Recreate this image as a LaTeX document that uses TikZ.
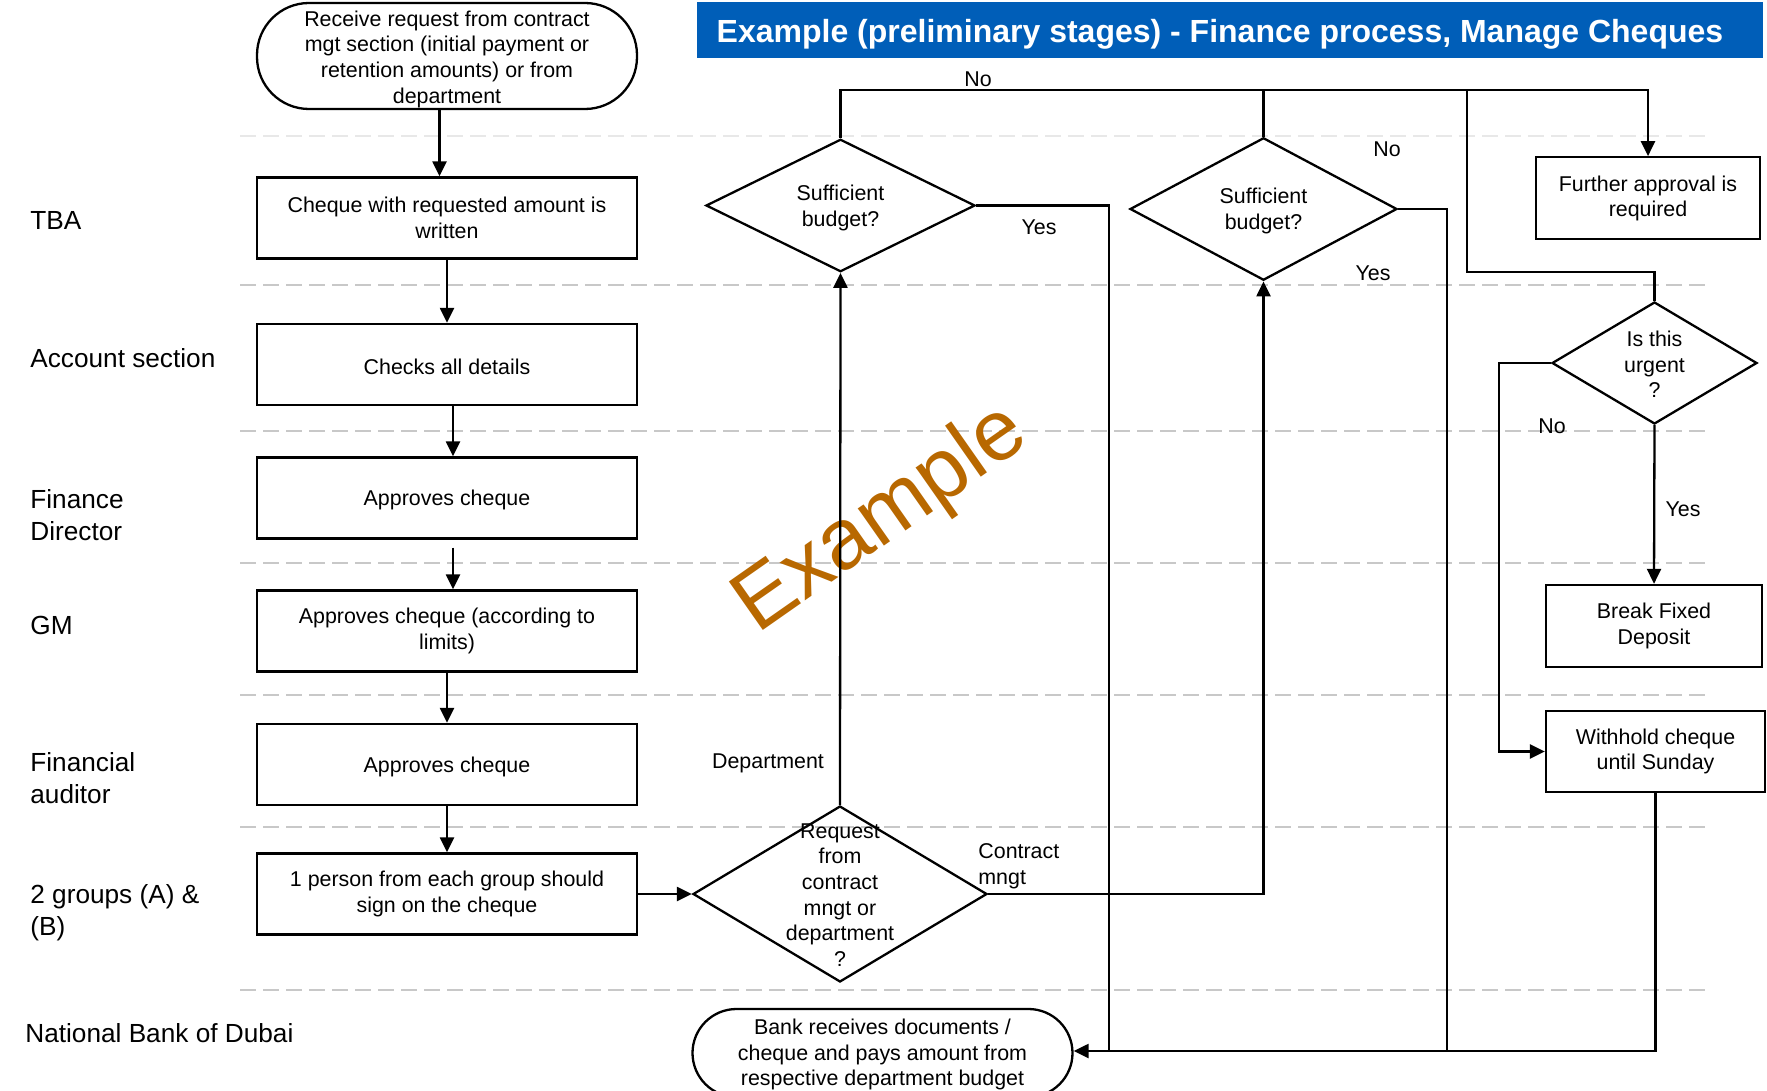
\documentclass[tikz,border=0pt]{standalone}
\usepackage{fontspec}
\setmainfont{Liberation Sans}
\usetikzlibrary{arrows.meta,shapes.geometric,calc}
\definecolor{titleblue}{RGB}{0,94,184}
\definecolor{wmark}{RGB}{184,104,0}
\definecolor{lanegray}{RGB}{200,200,200}
\definecolor{lanelight}{RGB}{232,232,232}
\begin{document}
\begin{tikzpicture}[x=0.5pt,y=-0.5pt,
  every node/.style={font=\fontsize{10.7}{12.8}\selectfont},
  box/.style={draw, line width=1.15pt, minimum width=190pt, minimum height=40.5pt, align=center, inner sep=2pt, execute at begin node={\rule{0pt}{10pt}}},
  term/.style={draw, line width=1.15pt, rounded corners=26pt, minimum width=190pt, align=center, inner sep=0pt},
  dia/.style={draw, line width=1.15pt, diamond, inner sep=0pt},
  txt/.style={align=center, inner sep=0pt},
  lane/.style={anchor=west, align=left, inner sep=0pt, font=\fontsize{13.1}{16}\selectfont},
  lbl/.style={inner sep=0pt},
  conn/.style={line width=1.15pt},
  arr/.style={line width=1.15pt, -{Triangle[length=7.5pt,width=7pt]}},
  laneline/.style={line width=1pt, dash pattern=on 8pt off 3.5pt}]
\useasboundingbox (0,0) rectangle (1767,1091);
\clip (0,0) rectangle (1767,1091);

% swimlane separators
\draw[laneline, lanelight] (240,136) -- (1707,136);
\foreach \yy in {285,431,562.5,695,826.5,990}
  \draw[laneline, lanegray] (240,\yy) -- (1707,\yy);

% watermark
\node[text=wmark, font=\fontsize{43}{50}\selectfont, rotate=35, inner sep=0pt] (wm) at (882,520) {Example};

% title
\node[fill=titleblue, minimum width=533pt, minimum height=28pt, inner sep=0pt] (titlebar) at (1230,30) {};
\node[text=white, font=\bfseries\fontsize{16}{19}\selectfont, inner sep=0pt] (title) at (1220,34) {Example (preliminary stages) - Finance process, Manage Cheques};

% lane labels
\node[lane] (lTBA) at (30,220) {TBA};
\node[lane] (lAcc) at (30,358) {Account section};
\node[lane] (lFD) at (30,515) {Finance\\Director};
\node[lane] (lGM) at (30,625) {GM};
\node[lane] (lFA) at (30,778.5) {Financial\\auditor};
\node[lane] (lGrp) at (30,913) {2 groups (A) \&\\(B)};
\node[lane] (lNBD) at (25,1033) {National Bank of Dubai};

% left column
\node[term, minimum height=53pt] (start) at (447,56) {\rule{0pt}{11pt}Receive request from contract\\mgt section (initial payment or\\retention amounts) or from\\department};
\node[box] (cheque) at (447,218) {Cheque with requested amount is\\written};
\node[box] (checks) at (447,364.5) {Checks all details};
\node[box] (fd) at (447,498) {Approves cheque};
\node[box] (gm) at (447,631) {Approves cheque (according to\\limits)};
\node[box] (fa) at (447,764.5) {Approves cheque};
\node[box] (sign) at (447,894) {1 person from each group should\\sign on the cheque};

% decisions
\node[dia, minimum width=147pt, minimum height=88pt] (req) at (840,894) {};
\node[txt] (reqt) at (840,895) {Request\\from\\contract\\mngt or\\department\\?};
\node[dia, minimum width=134.5pt, minimum height=66.25pt] (sb1) at (840.5,205.5) {};
\node[txt] (sb1t) at (840.5,208) {Sufficient\\budget?};
\node[dia, minimum width=133.5pt, minimum height=71.25pt] (sb2) at (1263.5,209) {};
\node[txt] (sb2t) at (1263.5,211) {Sufficient\\budget?};
\node[dia, minimum width=102.5pt, minimum height=61pt] (urg) at (1654.5,363) {};
\node[txt] (urgt) at (1654.5,364.5) {Is this\\urgent\\?};

% right column
\node[box, minimum width=112pt, minimum height=41pt] (further) at (1648,198.3) {Further approval is\\required};
\node[box, minimum width=108.25pt, minimum height=41pt] (break) at (1654,626) {Break Fixed\\Deposit};
\node[box, minimum width=109.5pt, minimum height=40.5pt] (withhold) at (1655.5,751.5) {Withhold cheque\\until Sunday};

% bank
\node[term, minimum height=44pt, rounded corners=22pt] (bank) at (882.5,1053) {\rule{0pt}{9.5pt}Bank receives documents /\\cheque and pays amount from\\respective department budget};

% helper coordinates
\coordinate (topy) at (0,90);
\coordinate (jog) at (1467,272);
\coordinate (yes1) at (1109,1051);
\coordinate (yes2) at (1447,1051);
\coordinate (nox) at (1499,0);

% connectors: left column
\draw[arr] ([xshift=-3.75pt]start.south) -- ([xshift=-3.75pt]cheque.north);
\draw[arr] (cheque.south) -- (checks.north);
\draw[arr] ([xshift=3pt]checks.south) -- ([xshift=3pt]fd.north);
\draw[arr] ([xshift=3pt,yshift=-4pt]fd.south) -- ([xshift=3pt]gm.north);
\draw[arr] (gm.south) -- (fa.north);
\draw[arr] (fa.south) -- (sign.north);
\draw[arr] (sign.east) -- (req.west);

% decision branches
\draw[arr] (req.north) -- (sb1.south);
\draw[arr] (req.east) -| (sb2.south);
\draw[arr] (sb1.north) -- (sb1.north |- topy) -| (further.north);
\draw[conn] (sb2.north) |- (jog |- topy) -- (jog) -| (urg.north);
\draw[conn] (sb1.east) -| (yes1);
\draw[conn] (sb2.east) -| (yes2);
\draw[arr] (urg.south) -- (break.north);
\draw[arr] (urg.west) -- (urg.west -| nox) |- (withhold.west);
\draw[arr] (withhold.south) |- ([yshift=1pt]bank.east);

% connector labels
\node[lbl] (lNo1) at (978,79) {No};
\node[lbl] (lYes1) at (1039,227) {Yes};
\node[lbl] (lNo2) at (1387,149) {No};
\node[lbl] (lYes2) at (1373,273) {Yes};
\node[lbl] (lDept) at (768,763) {Department};
\node[lane, font=\fontsize{10.7}{12.8}\selectfont] (lCm) at (978,866) {Contract\\mngt};
\node[lbl] (lNo3) at (1552,426) {No};
\node[lbl] (lYes3) at (1683,509) {Yes};
\end{tikzpicture}
\end{document}
